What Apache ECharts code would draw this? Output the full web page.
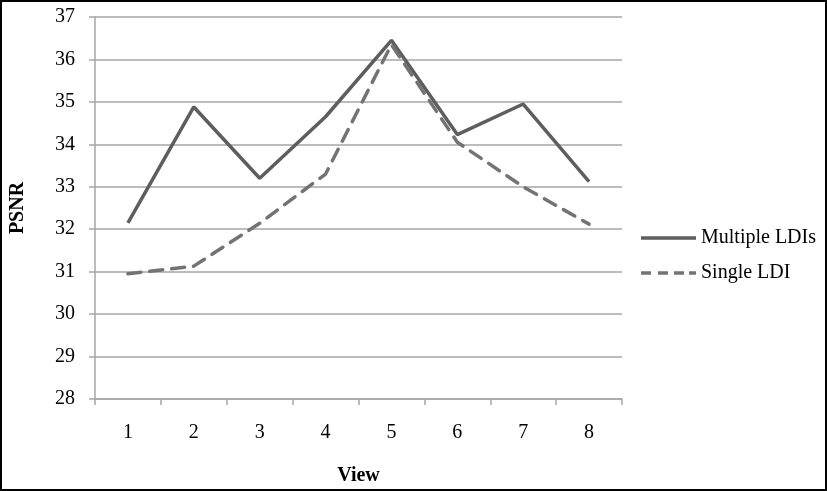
<!DOCTYPE html>
<html><head><meta charset="utf-8">
<script src="https://cdn.jsdelivr.net/npm/echarts@6/dist/echarts.min.js"></script>
<style>html,body{margin:0;padding:0;background:#fff}#c{width:827px;height:491px}</style>
</head><body><div id="c"></div>
<script>
const categories = ['1','2','3','4','5','6','7','8'];
const multipleLDIs = [32.15, 34.88, 33.2, 34.65, 36.45, 34.23, 34.95, 33.12];
const singleLDI = [30.95, 31.13, 32.14, 33.3, 36.35, 34.05, 33.0, 32.12];
const yTicks = {min: 28, max: 37, interval: 1};

const font = 'Liberation Serif';
const chart = echarts.init(document.getElementById('c'), null, {renderer: 'canvas'});
chart.setOption({
  animation: false,
  backgroundColor: '#fff',
  grid: {left: 95, right: 205, top: 17, bottom: 92, containLabel: false},
  xAxis: {
    type: 'category', data: categories, boundaryGap: true,
    name: 'View', nameLocation: 'middle', nameGap: 67,
    nameTextStyle: {fontFamily: font, fontSize: 20, fontWeight: 'bold', color: '#000'},
    axisLine: {lineStyle: {color: '#a6a6a6', width: 1.5}},
    axisTick: {show: true, length: 6, lineStyle: {color: '#a6a6a6', width: 1.5}, alignWithLabel: false},
    axisLabel: {fontFamily: font, fontSize: 20, color: '#000', margin: 24}
  },
  yAxis: {
    type: 'value', min: yTicks.min, max: yTicks.max, interval: yTicks.interval,
    name: 'PSNR', nameLocation: 'middle', nameGap: 67, nameRotate: 90,
    nameTextStyle: {fontFamily: font, fontSize: 20, fontWeight: 'bold', color: '#000'},
    axisLine: {show: true, lineStyle: {color: '#a6a6a6', width: 1.5}},
    axisTick: {show: true, length: 6, inside: false, lineStyle: {color: '#a6a6a6', width: 1.5}},
    axisLabel: {fontFamily: font, fontSize: 20, color: '#000', margin: 20},
    splitLine: {lineStyle: {color: '#a6a6a6', width: 1.5}}
  },
  legend: {
    orient: 'vertical', left: 636, top: 223, itemGap: 15,
    itemWidth: 55, itemHeight: 3.5,
    textStyle: {fontFamily: font, fontSize: 20, color: '#000'},
    data: [
      {name: 'Multiple LDIs', icon: 'path://M0,0H55V3.5H0Z'},
      {name: 'Single LDI', icon: 'path://M0,0H10V3.5H0Z M17,0H27V3.5H17Z M33,0H43V3.5H33Z M48,0H55V3.5H48Z'}
    ]
  },
  series: [
    {name: 'Multiple LDIs', type: 'line', data: multipleLDIs, symbol: 'none',
     lineStyle: {color: '#5e5e5e', width: 3.5}, itemStyle: {color: '#5e5e5e'}},
    {name: 'Single LDI', type: 'line', data: singleLDI, symbol: 'none',
     lineStyle: {color: '#737373', width: 3.5, type: [13, 9], cap: 'round'}, itemStyle: {color: '#737373'}}
  ],
  graphic: [{type: 'rect', shape: {x: 1, y: 1, width: 825, height: 489},
    style: {fill: 'none', stroke: '#000', lineWidth: 2}, silent: true}]
});
</script></body></html>
